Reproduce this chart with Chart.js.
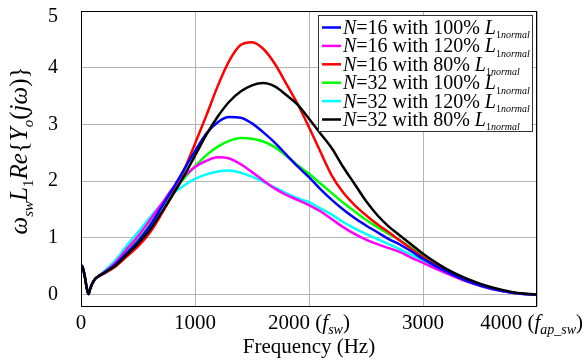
<!DOCTYPE html>
<html>
<head>
<meta charset="utf-8">
<script src="https://cdn.jsdelivr.net/npm/chart.js@4.4.1/dist/chart.umd.min.js"></script>
<style>
  body { margin: 0; background: #fff; }
  canvas { display: block; }
</style>
</head>
<body>
<canvas id="admittance" width="586" height="364"></canvas>
<script>
// frequency points (Hz), shared by all curves
const freqHz = [0, 15, 35, 50, 65, 80, 100, 125, 150,
    200, 300, 400, 500, 600, 700, 800, 900, 1000, 1100, 1200, 1300, 1400, 1500,
    1600, 1700, 1800, 1900, 2000, 2100, 2200, 2300, 2400, 2500, 2600, 2700, 2800, 2900, 3000,
    3200, 3400, 3600, 3800, 4000];

const n16_100 = [0.52, 0.48, 0.30, 0.12, 0.01, 0.10, 0.20, 0.28, 0.32,
    0.38, 0.53, 0.73, 0.94, 1.20, 1.52, 1.85, 2.19, 2.53, 2.84, 3.04, 3.13, 3.12, 3.02,
    2.86, 2.68, 2.47, 2.26, 2.07, 1.86, 1.67, 1.50, 1.35, 1.22, 1.10, 0.98, 0.88, 0.76, 0.63,
    0.41, 0.23, 0.11, 0.03, 0];
const n16_120 = [0.52, 0.48, 0.30, 0.12, 0.01, 0.10, 0.20, 0.28, 0.32,
    0.39, 0.56, 0.80, 1.03, 1.30, 1.58, 1.86, 2.08, 2.25, 2.36, 2.42, 2.40, 2.30, 2.16,
    2.01, 1.87, 1.76, 1.67, 1.58, 1.47, 1.33, 1.19, 1.07, 0.97, 0.89, 0.82, 0.75, 0.65, 0.56,
    0.38, 0.22, 0.10, 0.03, 0];
const n16_80 = [0.52, 0.48, 0.30, 0.12, 0.01, 0.10, 0.20, 0.28, 0.32,
    0.37, 0.49, 0.67, 0.85, 1.08, 1.40, 1.76, 2.18, 2.66, 3.16, 3.68, 4.12, 4.40, 4.45,
    4.33, 4.07, 3.72, 3.36, 2.95, 2.52, 2.10, 1.80, 1.58, 1.40, 1.24, 1.10, 0.95, 0.80, 0.66,
    0.42, 0.24, 0.11, 0.03, 0];
const n32_100 = [0.52, 0.48, 0.30, 0.12, 0.01, 0.10, 0.20, 0.28, 0.32,
    0.38, 0.53, 0.75, 0.97, 1.22, 1.52, 1.80, 2.04, 2.26, 2.46, 2.61, 2.71, 2.76, 2.75,
    2.70, 2.60, 2.45, 2.28, 2.13, 1.96, 1.79, 1.62, 1.47, 1.32, 1.19, 1.07, 0.96, 0.82, 0.67,
    0.42, 0.24, 0.11, 0.03, 0];
const n32_120 = [0.52, 0.48, 0.30, 0.12, 0.01, 0.10, 0.20, 0.28, 0.32,
    0.41, 0.60, 0.86, 1.10, 1.35, 1.58, 1.77, 1.92, 2.04, 2.12, 2.17, 2.19, 2.15, 2.08,
    1.99, 1.89, 1.79, 1.70, 1.63, 1.52, 1.41, 1.28, 1.17, 1.07, 0.98, 0.89, 0.80, 0.70, 0.60,
    0.40, 0.22, 0.10, 0.03, 0];
const n32_80 = [0.52, 0.48, 0.30, 0.12, 0.01, 0.10, 0.20, 0.28, 0.32,
    0.38, 0.51, 0.70, 0.90, 1.13, 1.43, 1.74, 2.08, 2.45, 2.82, 3.14, 3.40, 3.58, 3.69,
    3.73, 3.67, 3.52, 3.35, 3.10, 2.84, 2.58, 2.25, 1.95, 1.65, 1.40, 1.20, 1.04, 0.88, 0.72,
    0.46, 0.27, 0.13, 0.04, 0];

const seriesN = ['16', '16', '16', '32', '32', '32'];
const seriesPct = ['100%', '120%', '80%', '100%', '120%', '80%'];
const seriesColors = ['#0000ff', '#ff00ff', '#ff0000', '#00ff00', '#00ffff', '#000000'];
const seriesValues = [n16_100, n16_120, n16_80, n32_100, n32_120, n32_80];

const xTicks = [0, 1000, 2000, 3000, 4000];
const xTickSub = ['', '', 'sw', '', 'ap_sw'];
const yTicks = [0, 1, 2, 3, 4, 5];

const SERIF = '"Liberation Serif", "Times New Roman", serif';

// text runs: {t, it, sub}; subscripts use subSize
function setFont(ctx, p, size, subSize) {
    ctx.font = (p.it ? 'italic ' : '') + (p.sub ? subSize : size) + 'px ' + SERIF;
}
function richWidth(ctx, parts, size, subSize) {
    let w = 0;
    parts.forEach(p => {
        setFont(ctx, p, size, subSize);
        w += ctx.measureText(p.t).width;
    });
    return w;
}
function drawRich(ctx, parts, x, y, size, subSize) {
    parts.forEach(p => {
        setFont(ctx, p, size, subSize);
        ctx.fillText(p.t, x, p.sub ? y + size * 0.22 : y);
        x += ctx.measureText(p.t).width;
    });
}

const decor = {
    id: 'decor',
    afterDatasetsDraw(chart) {
        const ctx = chart.ctx;
        const a = chart.chartArea;
        ctx.save();
        // plot frame
        ctx.strokeStyle = '#000';
        ctx.lineWidth = 1;
        ctx.strokeRect(a.left + 0.5, a.top + 0.5, a.right - a.left - 1, a.bottom - a.top);

        // legend box
        const lx = a.right - 219, ly = a.top + 4, lw = 214, lh = 116;
        ctx.fillStyle = '#fff';
        ctx.fillRect(lx, ly, lw, lh);
        ctx.strokeStyle = '#333';
        ctx.strokeRect(lx + 0.5, ly + 0.5, lw, lh);
        ctx.textBaseline = 'alphabetic';
        ctx.textAlign = 'left';
        seriesN.forEach((n, i) => {
            const cy = ly + 12.5 + i * 18.4;
            ctx.strokeStyle = seriesColors[i];
            ctx.lineWidth = 2.5;
            ctx.beginPath();
            ctx.moveTo(lx + 4, cy);
            ctx.lineTo(lx + 23, cy);
            ctx.stroke();
            ctx.fillStyle = '#000';
            drawRich(ctx, [
                {t: 'N', it: true},
                {t: '=' + n + ' with ' + seriesPct[i] + ' '},
                {t: 'L', it: true},
                {t: '1', sub: true},
                {t: 'normal', sub: true, it: true}
            ], lx + 25, cy + 6.5, 20, 10);
        });
        ctx.restore();
    },
    afterDraw(chart) {
        const ctx = chart.ctx;
        const a = chart.chartArea;
        const xs = chart.scales.x;
        const ys = chart.scales.y;
        ctx.save();
        ctx.fillStyle = '#000';

        // y tick labels
        ctx.font = '20px ' + SERIF;
        ctx.textAlign = 'right';
        ctx.textBaseline = 'middle';
        yTicks.forEach(v => {
            const py = Math.max(ys.getPixelForValue(v), a.top + 6);
            ctx.fillText(String(v), a.left - 23, py);
        });

        // x tick labels with subscripted notes
        ctx.textAlign = 'left';
        ctx.textBaseline = 'alphabetic';
        xTicks.forEach((v, i) => {
            let parts = [{t: String(v)}];
            if (xTickSub[i]) {
                parts = parts.concat([{t: ' ('}, {t: 'f', it: true}, {t: xTickSub[i], it: true, sub: true}, {t: ')'}]);
            }
            const w = richWidth(ctx, parts, 21, 14);
            let x0 = xs.getPixelForValue(v) - w / 2;
            x0 = Math.min(x0, chart.width - 3 - w);
            drawRich(ctx, parts, x0, a.bottom + 23, 21, 14);
        });

        // x title
        ctx.font = '21px ' + SERIF;
        ctx.textAlign = 'center';
        ctx.fillText('Frequency (Hz)', (a.left + a.right) / 2, a.bottom + 47);

        // y title
        const yParts = [
            {t: 'ω', it: true}, {t: 'sw', it: true, sub: true},
            {t: 'L', it: true}, {t: '1', sub: true},
            {t: 'Re', it: true}, {t: '{'},
            {t: 'Y', it: true}, {t: 'o', it: true, sub: true},
            {t: '('}, {t: 'jω', it: true}, {t: ')'}, {t: '}'}
        ];
        ctx.textAlign = 'left';
        const yw = richWidth(ctx, yParts, 25, 15);
        ctx.translate(27, (a.top + a.bottom) / 2 - 8);
        ctx.rotate(-Math.PI / 2);
        drawRich(ctx, yParts, -yw / 2, 0, 25, 15);
        ctx.restore();
    }
};

new Chart(document.getElementById('admittance'), {
    type: 'line',
    data: {
        datasets: seriesValues.map((vals, i) => ({
            label: 'N=' + seriesN[i] + ' with ' + seriesPct[i] + ' L1normal',
            data: vals.map((y, k) => ({x: freqHz[k], y: y})),
            borderColor: seriesColors[i],
            borderWidth: 2.5,
            pointRadius: 0,
            fill: false,
            cubicInterpolationMode: 'monotone',
            order: i === 5 ? 0 : 1
        }))
    },
    options: {
        responsive: false,
        animation: false,
        devicePixelRatio: 1,
        layout: { padding: { top: 11, right: 49, left: 0, bottom: 0 } },
        plugins: {
            legend: { display: false },
            tooltip: { enabled: false }
        },
        scales: {
            x: {
                type: 'linear',
                min: 0,
                max: 4000,
                afterBuildTicks: s => { s.ticks = xTicks.map(v => ({value: v})); },
                afterFit: s => { s.height = 58; },
                ticks: { display: false },
                grid: { color: '#b4b4b4', lineWidth: 1, drawTicks: false },
                border: { display: false }
            },
            y: {
                min: -0.2,
                max: 5,
                afterBuildTicks: s => { s.ticks = yTicks.map(v => ({value: v})); },
                afterFit: s => { s.width = 81; },
                ticks: { display: false },
                grid: { color: '#b4b4b4', lineWidth: 1, drawTicks: false },
                border: { display: false }
            }
        }
    },
    plugins: [decor]
});
</script>
</body>
</html>
